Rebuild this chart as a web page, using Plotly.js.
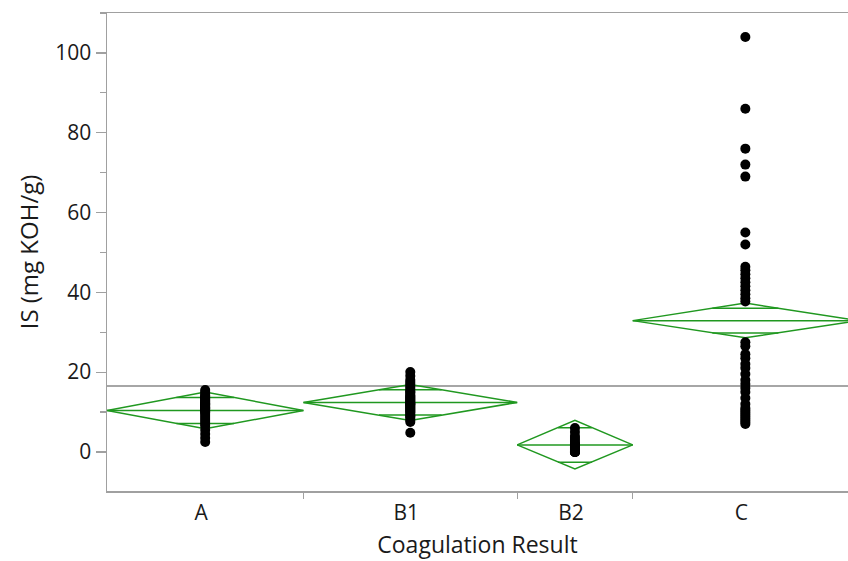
<!DOCTYPE html>
<html>
<head>
<meta charset="utf-8">
<script src="https://cdn.plot.ly/plotly-3.0.1.min.js"></script>
<style>html,body{margin:0;padding:0;background:#fff;}#chart{width:848px;height:561px;}</style>
</head>
<body>
<div id="chart"></div>
<script>
// ---- data ----
const groups = ['A', 'B1', 'B2', 'C'];

const valuesA = [2.5, 3.5, 4.5, 5.5, 6.5, 7, 7.5, 8, 8.5, 9, 9.5, 10, 10, 10.5, 10.5, 11, 11, 11,
  11.5, 11.5, 12, 12, 12, 12.5, 12.5, 13, 13, 13.5, 13.5, 14, 14, 14.5, 15, 15.5];
const valuesB1 = [4.8, 7.5, 8, 8.5, 9, 9, 9.5, 10, 10, 10.5, 10.5, 11, 11, 11.5, 11.5, 12, 12, 12,
  12.5, 12.5, 13, 13, 13.5, 13.5, 14, 14, 14.5, 15, 15, 15.5, 16, 16.5, 17, 17.5, 18, 19, 20];
const valuesB2 = [0, 0, 0, 0, 0, 0.5, 0.5, 1, 1, 1, 1.5, 1.5, 2, 2, 2.5, 3, 3.5, 4, 5, 6];
const valuesC = [104, 86, 76, 72, 69, 55, 52, 46.4, 45.5, 44.5, 43.5, 42.5, 41.5, 40.5, 39.5, 38.5,
  37.7, 27.5, 26.5, 24.5, 23.5, 22, 21, 19.5, 18, 17, 16, 15, 13.5, 12, 11, 10.5, 10, 9.5, 9, 8.5,
  8, 7.5, 7];

// group means and 95% confidence limits (means diamonds)
const groupMeans = [10.4, 12.4, 1.75, 32.9];
const ciLower = [5.8, 7.9, -4.3, 28.6];
const ciUpper = [15.0, 16.9, 7.9, 37.3];
const grandMean = 16.5;

const yTickVals = [0, 20, 40, 60, 80, 100];

// ---- build ----
const groupValues = [valuesA, valuesB1, valuesB2, valuesC];
const counts = groupValues.map(v => v.length);
const starts = [];
let acc = 0;
counts.forEach(n => { starts.push(acc); acc += n; });
const centers = counts.map((n, i) => starts[i] + n / 2);
const boundaries = starts.slice(1);

const green = 'rgb(32,152,32)';
const traces = [];

groupValues.forEach((vals, i) => {
  const L = starts[i], R = starts[i] + counts[i], c = centers[i];
  const m = groupMeans[i], lo = ciLower[i], hi = ciUpper[i];
  const half = (R - L) / 2;
  const ov = (hi - lo) / 2 / Math.SQRT2;
  const f = 1 - 1 / Math.SQRT2;
  traces.push({
    type: 'scatter', mode: 'lines', hoverinfo: 'skip', showlegend: false,
    x: [L, c, R, c, L, null, L, R, null, c - half * f, c + half * f, null, c - half * f, c + half * f],
    y: [m, hi, m, lo, m, null, m, m, null, m + ov, m + ov, null, m - ov, m - ov],
    line: {color: green, width: 1.5}
  });
});

groupValues.forEach((vals, i) => {
  traces.push({
    type: 'scatter', mode: 'markers', showlegend: false,
    x: vals.map(() => centers[i]), y: vals,
    marker: {color: '#000', size: 10, line: {width: 0}}
  });
});

const fontFam = '"Open Sans", "Noto Sans", sans-serif';
const total = acc;
const layout = {
  width: 848, height: 561,
  margin: {l: 107, r: 0, t: 13, b: 70},
  paper_bgcolor: '#fff', plot_bgcolor: '#fff',
  font: {family: fontFam, size: 21, color: '#1a1a1a'},
  showlegend: false,
  xaxis: {
    range: [0, total * 741 / 751],
    tickmode: 'array', tickvals: centers, ticktext: groups,
    ticks: '', ticklabelshift: -4, ticklabelstandoff: 2,
    minor: {tickmode: 'array', tickvals: boundaries, ticks: 'outside', ticklen: 6, tickcolor: '#a0a0a0', tickwidth: 1.2, showgrid: false},
    showgrid: false, zeroline: false,
    showline: true, linecolor: '#a0a0a0', linewidth: 1.5, mirror: true,
    title: {text: 'Coagulation Result', font: {size: 23}, standoff: 12},
    tickfont: {size: 21}
  },
  yaxis: {
    range: [-9.8, 110],
    tickmode: 'array', tickvals: yTickVals,
    ticks: 'outside', ticklen: 10, tickcolor: '#a0a0a0', tickwidth: 1.2,
    minor: {dtick: 10, ticks: 'outside', ticklen: 6, tickcolor: '#a0a0a0', tickwidth: 1.2, showgrid: false},
    showgrid: false, zeroline: false,
    showline: true, linecolor: '#a0a0a0', linewidth: 1.5,
    title: {text: 'IS (mg KOH/g)', font: {size: 24}, standoff: 10},
    tickfont: {size: 21}
  },
  shapes: [{
    type: 'line', xref: 'paper', x0: 0, x1: 1, yref: 'y', y0: grandMean, y1: grandMean,
    line: {color: '#888888', width: 1.6}, layer: 'below'
  }]
};

Plotly.newPlot('chart', traces, layout, {displayModeBar: false, staticPlot: true});
</script>
</body>
</html>
